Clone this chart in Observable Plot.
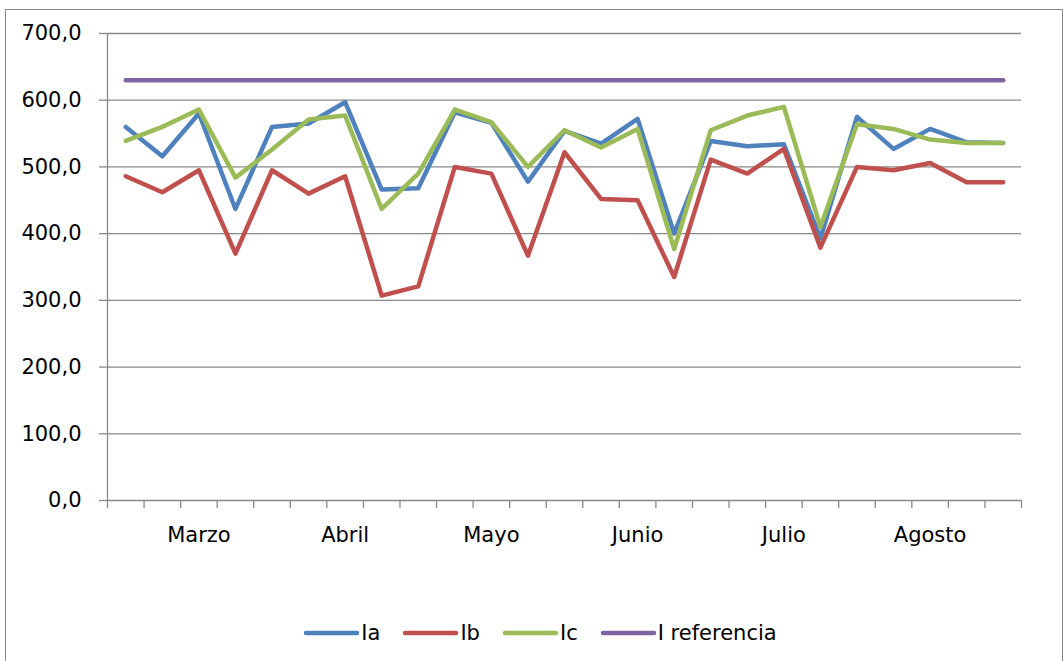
<!DOCTYPE html>
<html><head><meta charset="utf-8">
<script src="https://cdn.jsdelivr.net/npm/d3@7"></script>
<script src="https://cdn.jsdelivr.net/npm/@observablehq/plot@0.6"></script>
<style>
body{margin:0;background:#fff;font-family:"DejaVu Sans",sans-serif;width:1064px;height:661px;overflow:hidden;position:relative;}
#frame{position:absolute;left:5px;top:9px;width:1058px;height:660px;border:1.5px solid #898989;box-sizing:border-box;}
#chart{position:absolute;left:0;top:0;}
#legend{position:absolute;top:621px;left:5px;width:1058px;height:24px;display:flex;justify-content:center;align-items:center;padding-left:12px;box-sizing:border-box;font-size:21px;color:#000;}
#legend .item{display:flex;align-items:center;margin:0 11px;}
#legend svg{margin-right:1px;}
</style></head>
<body>
<div id="frame"></div>
<div id="chart"></div>
<div id="legend"></div>
<script>
const categories = d3.range(25);
const monthTickIdx = [2, 6, 10, 14, 18, 22];
const monthLabels = ["Marzo", "Abril", "Mayo", "Junio", "Julio", "Agosto"];
const yTicks = [0, 100, 200, 300, 400, 500, 600, 700];
const seriesNames = ["Ia", "Ib", "Ic", "I referencia"];
const seriesColors = ["#4F81BD", "#C0504D", "#9BBB59", "#8064A2"];
const Ia = [560, 516, 580, 437, 560, 565, 597, 466, 468, 582, 566, 478, 554, 535, 572, 400, 539, 531, 534, 393, 575, 527, 557, 537, 536];
const Ib = [486, 462, 495, 370, 495, 460, 486, 307, 321, 500, 490, 367, 522, 452, 450, 335, 511, 490, 527, 379, 500, 495, 506, 477, 477];
const Ic = [539, 560, 586, 484, 526, 571, 577, 437, 490, 586, 567, 500, 555, 529, 557, 377, 555, 577, 590, 410, 564, 557, 541, 536, 536];
const Iref = [630, 630, 630, 630, 630, 630, 630, 630, 630, 630, 630, 630, 630, 630, 630, 630, 630, 630, 630, 630, 630, 630, 630, 630, 630];

const seriesValues = [Ia, Ib, Ic, Iref];
const data = seriesNames.flatMap((name, s) => seriesValues[s].map((v, i) => ({series: name, i: categories[i], value: v})));
const edges = d3.range(categories.length + 1).map(k => k - 0.5);
const fmt = v => v.toFixed(1).replace(".", ",");
const grid = "#898989";

const plot = Plot.plot({
  width: 1064, height: 600,
  marginLeft: 107, marginRight: 43, marginTop: 33, marginBottom: 100,
  style: {fontFamily: "DejaVu Sans, sans-serif", fontSize: "21px", color: "#000", background: "transparent"},
  x: {domain: [-0.5, categories.length - 0.5], label: null},
  y: {domain: [0, 700], label: null},
  color: {domain: seriesNames, range: seriesColors},
  marks: [
    Plot.ruleY(yTicks, {stroke: grid, strokeWidth: 1.3}),
    Plot.ruleX([edges[0]], {stroke: grid, strokeWidth: 1.3}),
    Plot.axisY({ticks: yTicks, tickSize: 8, tickPadding: 18, tickFormat: fmt, stroke: grid, strokeWidth: 1.3, label: null}),
    Plot.axisX({ticks: edges, tickSize: 8, tickFormat: () => "", stroke: grid, strokeWidth: 1.3, label: null}),
    Plot.axisX({ticks: monthTickIdx, tickSize: 0, tickPadding: 27, tickFormat: i => monthLabels[monthTickIdx.indexOf(i)], label: null}),
    Plot.lineY(data, {x: "i", y: "value", z: "series", stroke: "series", strokeWidth: 4.5, strokeLinejoin: "round", strokeLinecap: "round"})
  ]
});
document.getElementById("chart").appendChild(plot);

const legend = document.getElementById("legend");
seriesNames.forEach((name, s) => {
  const item = document.createElement("div");
  item.className = "item";
  item.innerHTML = `<svg width="57" height="10"><line x1="3" y1="5" x2="54" y2="5" stroke="${seriesColors[s]}" stroke-width="4.5" stroke-linecap="round"/></svg><span>${name}</span>`;
  legend.appendChild(item);
});
</script>
</body></html>
